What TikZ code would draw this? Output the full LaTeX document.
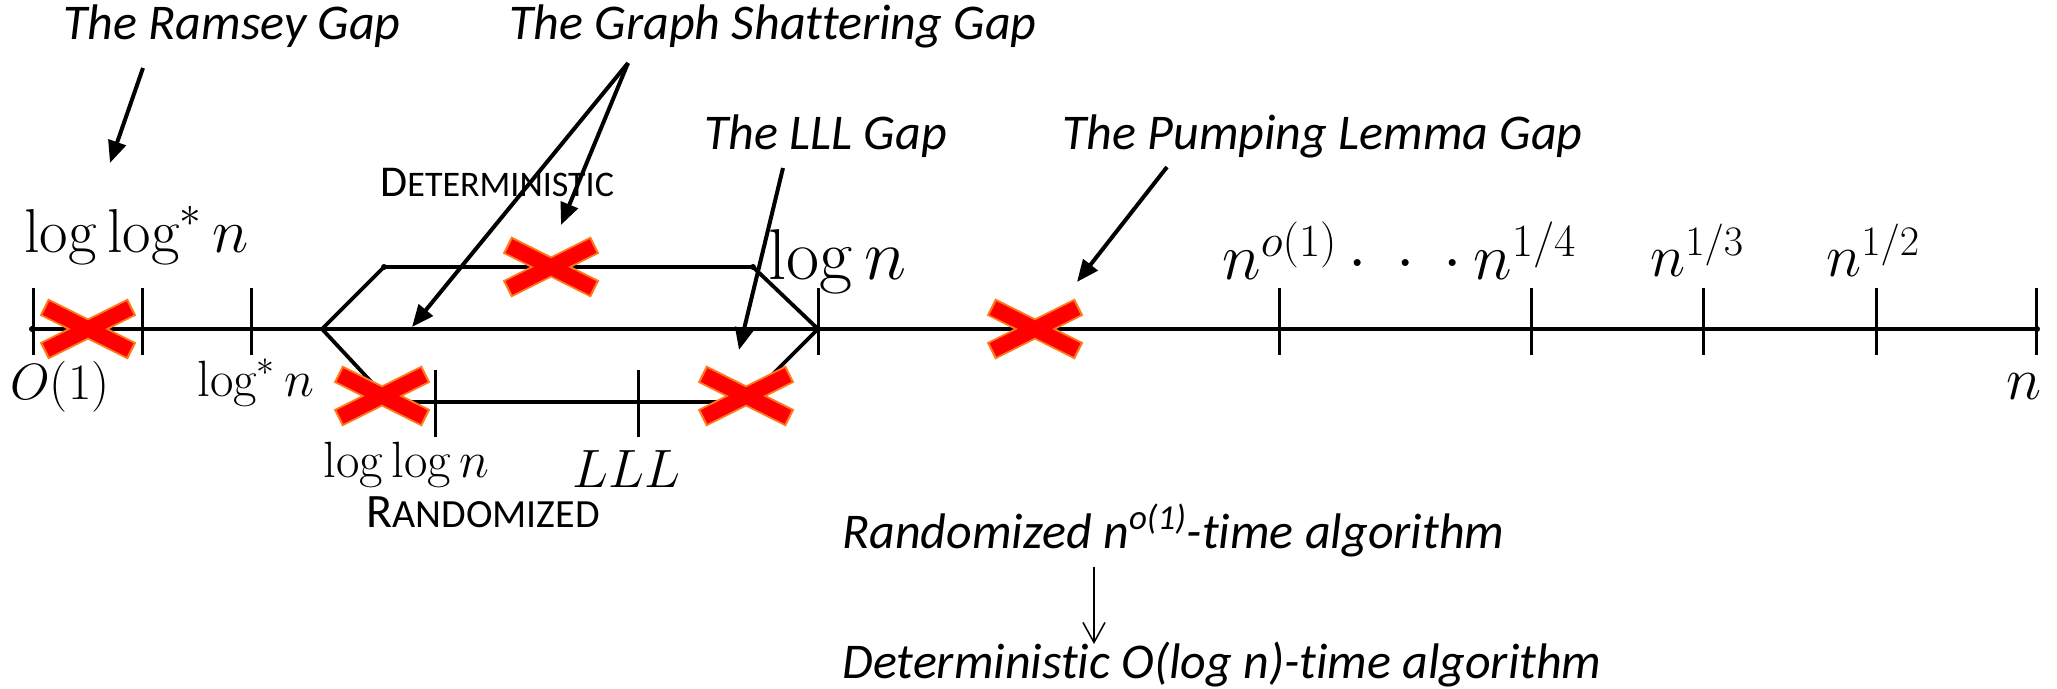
\RequirePackage{fix-cm}
\documentclass[tikz,border=0pt]{standalone}
\usepackage{fontspec}
\newfontfamily\calfont[Ligatures=NoCommon]{Carlito}
\usetikzlibrary{arrows.meta}
\definecolor{xred}{HTML}{FF0000}
\definecolor{xedge}{HTML}{FF7A1A}
\tikzset{
 gap/.style={font=\calfont\itshape\fontsize{25}{30}\selectfont,inner sep=0,anchor=base west},
 lab/.style={font=\fontsize{25.5}{30}\selectfont,inner sep=0,anchor=base west},
 biglab/.style={lab,font=\fontsize{33}{38}\selectfont},
 midlab/.style={lab,font=\fontsize{30}{34}\selectfont},
 axis/.style={line width=2.2pt},
 branch/.style={line width=1.9pt,line join=round},
 tick/.style={line width=1.5pt},
 ptr/.style={line width=2pt,-{Triangle[length=11pt,width=9pt]}},
}
\newcommand\smc[3]{{\fontsize{#1}{26}\selectfont#2}{\fontsize{\numexpr#1*82/100\relax}{22}\selectfont#3}}
\begin{document}
\begin{tikzpicture}[x=0.5pt,y=-0.5pt]
\useasboundingbox(0,0)rectangle(2057,689);
% the line and its two branches
\coordinate(L)at(32,329);\coordinate(R)at(2037,329);\coordinate(B)at(322,329);\coordinate(J)at(818,329);
\coordinate(U1)at(384,267);\coordinate(U2)at(753,267);\coordinate(D1)at(390,402);\coordinate(D2)at(745,402);
\draw[axis](L)--(R);
\draw[branch](B)--(U1)--(U2)--(J) (B)--(D1)--(D2)--(J);
\foreach\x in{33,142,251,818,1279,1531,1703,1876,2036}{\draw[tick](\x,288)--(\x,355);}
\foreach\x in{435,638}{\draw[tick](\x,370)--(\x,437);}
\foreach\p in{L,R,U1,U2}{\fill(\p)circle(1.5pt);}
% crosses
\foreach\x/\y in{88/329,382/396,551/267,746/396,1035/329}{\draw[xedge,line width=9.5pt](\x-44,\y-22)--(\x+44,\y+22) (\x-44,\y+22)--(\x+44,\y-22);}
\foreach\x/\y in{88/329,382/396,551/267,746/396,1035/329}{\draw[xred,line width=7.5pt](\x-42,\y-21)--(\x+42,\y+21) (\x-42,\y+21)--(\x+42,\y-21);}
% labels
\node[lab,font=\fontsize{31}{36}\selectfont](lls)at(24,253){$\log\log^*n$};
\node[lab](o1)at(10,400){$O(1)$};
\node[lab](ls)at(197,397){$\log^*n$};
\node[lab](lln)at(323,478){$\log\log n$};
\node[lab,font=\fontsize{27}{32}\selectfont](lll)at(572,488){$LLL$};
\node[biglab,font=\fontsize{36}{40}\selectfont](ln)at(768,280){$\log n$};
\node[biglab](no1)at(1222,280){$n^{o(1)}\mkern3mu\mathord{\cdot}\mkern8mu\mathord{\cdot}\mkern8mu\mathord{\cdot}\mkern3mu n^{1/4}$};
\node[midlab](n3)at(1650,277){$n^{1/3}$};
\node[midlab](n2)at(1826,277){$n^{1/2}$};
\node[midlab,anchor=base east](nn)at(2042,400){$n$};
\node[lab,font=\calfont](det)at(380,197){\smc{22}{D}{ETERMINISTIC}};
\node[lab,font=\calfont](rnd)at(366,528){\smc{24}{R}{ANDOMIZED}};
% gaps
\node[gap](ram)at(63,40){The Ramsey Gap};
\node[gap](gsg)at(509,40){The Graph Shattering Gap};
\node[gap](llg)at(704,150){The LLL Gap};
\node[gap](pmg)at(1062,150){The Pumping Lemma Gap};
\node[gap](rnt)at(842,548){Randomized n\textsuperscript{o(1)}-time algorithm};
\node[gap](dtt)at(842,678){Deterministic O(log n)-time algorithm};
\coordinate(ramA)at(143,68);\coordinate(ramB)at(110,163);
\coordinate(gsgA)at(628,63);\coordinate(gsgB)at(412,327);\coordinate(gsgC)at(561,225);
\coordinate(llgA)at(783,168);\coordinate(llgB)at(739,350);
\coordinate(pmgA)at(1167,167);\coordinate(pmgB)at(1077,282);
\coordinate(rntA)at(1094,567);\coordinate(dttA)at(1094,644);
\draw[ptr](ramA)--(ramB);\draw[ptr](gsgA)--(gsgB);\draw[ptr](gsgA)--(gsgC);\draw[ptr](llgA)--(llgB);\draw[ptr](pmgA)--(pmgB);
\draw[line width=.75pt,-{Straight Barb[length=10pt,width=11pt]}](rntA)--(dttA);
\end{tikzpicture}
\end{document}
